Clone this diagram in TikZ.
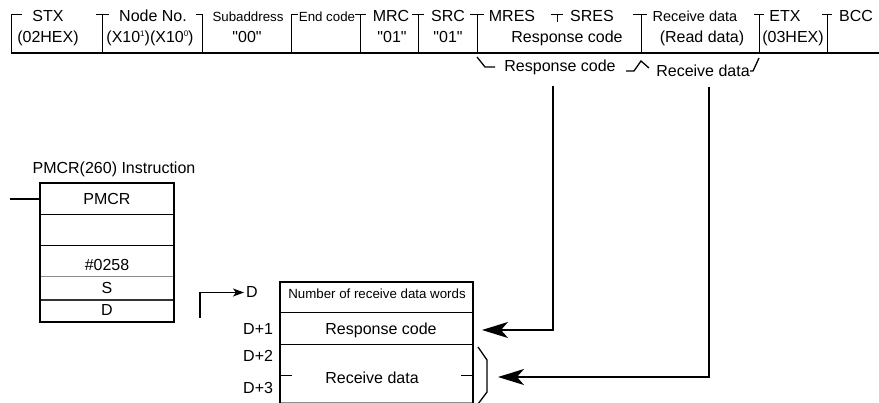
\documentclass[tikz,border=0pt]{standalone}
\usepackage{fontspec}
\setmainfont{Liberation Sans}
\newfontfamily\plainf{Liberation Sans}
\usetikzlibrary{arrows.meta}
\newcommand\fmain{\fontsize{16}{18}\selectfont}
\newcommand\fsmall{\fontsize{13.3}{15}\selectfont}
\newcommand\supx[1]{\raisebox{0.75ex}{\fontsize{8}{9}\selectfont #1}}
\begin{document}
\begin{tikzpicture}[x=1pt,y=-1pt,
  txt/.style={inner sep=0pt, anchor=base, font=\fmain},
  qtxt/.style={inner sep=0pt, anchor=base, font=\plainf\fmain},
  stxt/.style={inner sep=0pt, anchor=base, font=\fsmall},
  lbl/.style={inner sep=0pt, anchor=base west, font=\fmain},
  frameline/.style={line width=1pt},
  thickline/.style={line width=2pt},
  thinline/.style={line width=0.8pt},
  greyline/.style={line width=0.8pt, draw=black!45},
  brk/.style={line width=1.3pt},
  bigarrow/.style={line width=1.5pt, -{Stealth[length=26pt,width=16pt,inset=7pt]}},
  smallarrow/.style={line width=1.2pt, -{Stealth[length=11pt,width=8pt,inset=3pt]}}]
\useasboundingbox (0,0) rectangle (879,403);

% ---------- top frame ----------
\draw[thickline] (11,53) -- (879,53);
\draw[frameline] (22,15) -- (11,15) -- (11,53);
\foreach \x/\a/\b in {102/96/109, 202/196/203, 291/291/298, 360/355/366,
  418/412/424, 477/470/484, 641/633/647, 759/754/764, 827/822/832}{
  \draw[frameline] (\a,15) -- (\b,15);
  \draw[frameline] (\x,15) -- (\x,53);
}
\draw[frameline] (551,15) -- (563,15);
\draw[frameline] (557,15) -- (557,22);

\node[txt] (stx) at (48,22) {STX};
\node[txt] (stxv) at (48,43) {(02HEX)};
\node[txt] (node) at (153,22) {Node No.};
\node[txt] (nodev) at (150,43) {(X10\supx{1})(X10\supx{0})};
\node[stxt] (sub) at (248,22) {Subaddress};
\node[qtxt] (subv) at (247,43) {"00"};
\node[stxt] (endc) at (327,22) {End code};
\node[txt] (mrc) at (391,22) {MRC};
\node[qtxt] (mrcv) at (392,43) {"01"};
\node[txt] (src) at (448,22) {SRC};
\node[qtxt] (srcv) at (448,43) {"01"};
\node[txt] (mres) at (512,22) {MRES};
\node[txt] (sres) at (592,22) {SRES};
\node[txt] (resp) at (567,43) {Response code};
\node[txt,font=\fontsize{14.5}{16}\selectfont] (recv) at (695,22) {Receive data};
\node[txt] (readd) at (702,43) {(Read data)};
\node[txt] (etx) at (785,22) {ETX};
\node[txt] (etxv) at (793,43) {(03HEX)};
\node[txt] (bcc) at (856,22) {BCC};

% ---------- braces below the frame ----------
\draw[brk] (477,57) -- (485,67) -- (495,67);
\node[txt] (respb) at (560,72) {Response code};
\draw[brk] (626,71) -- (634,71) -- (641,61) -- (649,68);
\node[txt] (recvb) at (703,77) {Receive data};
\draw[brk] (750,71) -- (753,71) -- (759,58);

% ---------- PMCR instruction ----------
\node[txt] (title) at (114,174) {PMCR(260) Instruction};
\draw[thinline] (40,214) -- (174,214);
\draw[thinline] (40,245) -- (174,245);
\draw[greyline] (40,276) -- (174,276);
\draw[line width=1.4pt, draw=black!80] (40,300) -- (174,300);
\draw[thickline] (40,183) rectangle (174,322);
\node[txt] (pmcr) at (107,205) {PMCR};
\node[txt] (c258) at (107,271) {\#0258};
\node[txt] (s) at (107,294) {S};
\node[txt] (d) at (107,316) {D};
\coordinate (inl) at (10,199);
\draw[line width=1.3pt] (inl) -- (40,199);

% ---------- destination table ----------
\draw[thinline] (280,312) -- (473,312);
\draw[thinline] (280,344) -- (473,344);
\draw[greyline] (280,402) -- (473,402);
\draw[thinline] (280,375) -- (292,375);
\draw[thinline] (461,375) -- (473,375);
\draw[thickline] (280,403) -- (280,282) -- (473,282) -- (473,403);
\node[stxt] (nwords) at (377,299) {Number of receive data words};
\node[txt] (respt) at (381,335) {Response code};
\node[txt] (recvt) at (372,384) {Receive data};
\draw[brk] (478,347) -- (487,360) -- (487,392) -- (478,404);

\node[lbl] (dl) at (246,298) {D};
\node[lbl] (d1) at (243,335) {D+1};
\node[lbl] (d2) at (243,362) {D+2};
\node[lbl] (d3) at (243,394) {D+3};

% ---------- connectors ----------
\coordinate (dstart) at (200,318);
\draw[smallarrow, shorten >=2pt] (dstart) |- (dl.west);
\coordinate (rcTop) at (553,86);
\coordinate (rcTip) at (482,330);
\draw[bigarrow] (rcTop) |- (rcTip);
\coordinate (rdTop) at (709,87);
\coordinate (rdTip) at (498,377);
\draw[bigarrow] (rdTop) |- (rdTip);
\end{tikzpicture}
\end{document}
